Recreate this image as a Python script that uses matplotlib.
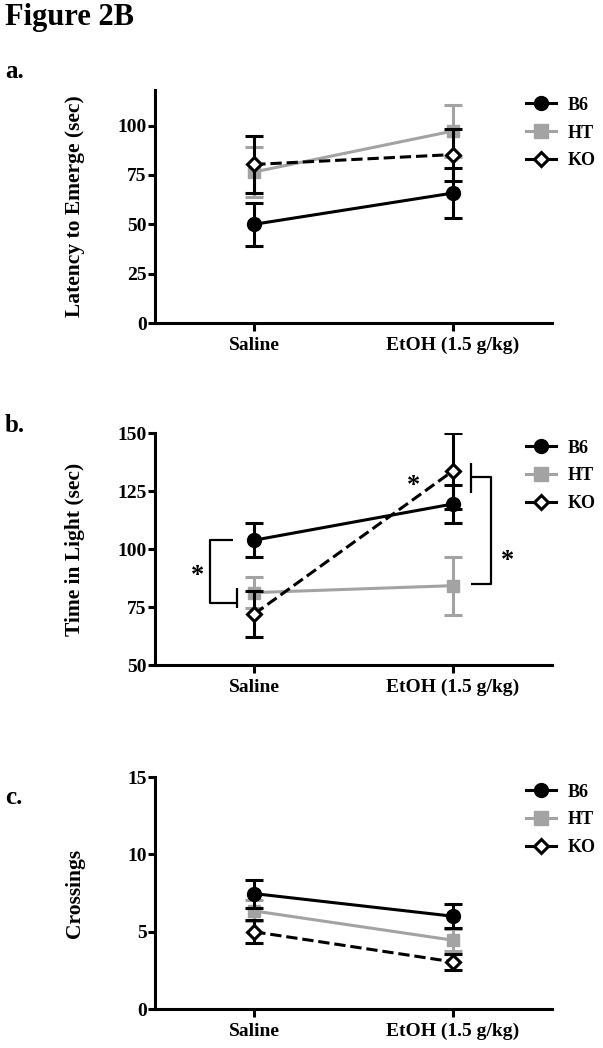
import matplotlib
matplotlib.use("Agg")
import matplotlib.pyplot as plt
from matplotlib.lines import Line2D

plt.rcParams['font.family'] = ['Liberation Serif', 'DejaVu Serif']
plt.rcParams['font.weight'] = 'bold'

# data
conditions = ["Saline", "EtOH (1.5 g/kg)"]
groups = ["B6", "HT", "KO"]

# a. latency to emerge (sec)
lat_b6 = [50, 65.8]
lat_b6_err = [10.8, 12.6]
lat_ht = [76.5, 97.2]
lat_ht_err = [12.7, 13.3]
lat_ko = [80.3, 85.3]
lat_ko_err = [14.4, 13.2]

# b. time in light (sec)
light_b6 = [103.8, 119.4]
light_b6_err = [7.4, 8.2]
light_ht = [81.2, 84.2]
light_ht_err = [6.6, 12.5]
light_ko = [72.0, 133.6]
light_ko_err = [10.1, 16.2]

# c. crossings
cross_b6 = [7.46, 6.0]
cross_b6_err = [0.9, 0.78]
cross_ht = [6.34, 4.45]
cross_ht_err = [0.68, 0.72]
cross_ko = [4.99, 3.05]
cross_ko_err = [0.75, 0.5]

GRAY = '#a3a3a3'
LW = 2.2

W, H = 603, 1048
AX_L, AX_R = 155, 552
fig = plt.figure(figsize=(W / 100, H / 100), dpi=100)


def panel(bottom_px, top_px, ylim, yticks, ylabel, b6, b6e, ht, hte, ko, koe):
    ax = fig.add_axes([AX_L / W, 1 - bottom_px / H, (AX_R - AX_L) / W,
                       (bottom_px - top_px) / H])
    x = [0, 1]
    ax.errorbar(x, b6, yerr=b6e, color='black', lw=LW, marker='o', ms=10,
                capsize=6.5, capthick=LW, elinewidth=LW, zorder=3)
    ax.errorbar(x, ht, yerr=hte, color=GRAY, lw=LW, marker='s', ms=9,
                capsize=6.5, capthick=LW, elinewidth=LW, zorder=2)
    ax.errorbar(x, ko, yerr=koe, color='black', lw=LW, ls='--', marker='D', ms=7.5,
                mfc='white', mec='black', mew=2.2, capsize=6.5, capthick=LW,
                elinewidth=LW, zorder=4)
    ax.set_xlim(-0.5, 1.5)
    ax.set_ylim(*ylim)
    ax.set_yticks(yticks)
    ax.set_xticks(x)
    ax.set_xticklabels(conditions, fontsize=14, fontweight='bold')
    for lab in ax.get_yticklabels():
        lab.set_fontsize(14)
        lab.set_fontweight('bold')
    ax.spines['top'].set_visible(False)
    ax.spines['right'].set_visible(False)
    ax.spines['left'].set_linewidth(2.2)
    ax.spines['bottom'].set_linewidth(2.2)
    ax.tick_params(axis='both', width=2.2, length=5, direction='out', pad=1)
    ax.tick_params(axis='x', length=6, pad=4)
    ax.set_ylabel(ylabel, fontsize=15.5, fontweight='bold')
    ax.yaxis.set_label_coords(-70 / (AX_R - AX_L), 0.5)

    handles = [
        Line2D([], [], color='black', lw=LW, marker='o', ms=10),
        Line2D([], [], color=GRAY, lw=LW, marker='s', ms=9.5),
        Line2D([], [], color='black', lw=LW, marker='D', ms=7.5, mfc='white', mew=2.2),
    ]
    ax.legend(handles, groups, loc='center left',
              bbox_to_anchor=((526 - AX_L) / (AX_R - AX_L), 0.815),
              frameon=False, handlelength=1.66, handletextpad=0.66,
              labelspacing=0.6, borderaxespad=0, borderpad=0,
              prop={'weight': 'bold', 'size': 13})
    return ax


axa = panel(323, 90, (0, 118), [0, 25, 50, 75, 100], "Latency to Emerge (sec)",
            lat_b6, lat_b6_err, lat_ht, lat_ht_err, lat_ko, lat_ko_err)
axb = panel(665, 433, (50, 150), [50, 75, 100, 125, 150], "Time in Light (sec)",
            light_b6, light_b6_err, light_ht, light_ht_err, light_ko, light_ko_err)
axc = panel(1009, 777, (0, 15), [0, 5, 10, 15], "Crossings",
            cross_b6, cross_b6_err, cross_ht, cross_ht_err, cross_ko, cross_ko_err)

# significance brackets in panel b
kw = dict(color='black', lw=1.6, clip_on=False, solid_capstyle='butt')
axb.plot([-0.105, -0.221, -0.221, -0.085], [103.9, 103.9, 76.9, 76.9], **kw)
axb.plot([-0.085, -0.085], [74.6, 83.2], **kw)
axb.plot([1.09, 1.191, 1.191, 1.09], [130.9, 130.9, 84.8, 84.8], **kw)
axb.plot([1.09, 1.09], [124, 137], **kw)
axb.text(-0.286, 88.5, "*", fontsize=19, ha='center', va='center')
axb.text(1.276, 95, "*", fontsize=19, ha='center', va='center')
axb.text(0.80, 127.5, "*", fontsize=19, ha='center', va='center')

fig.text(5 / W, 1 - 18 / H, "Figure 2B", fontsize=22, fontweight='bold', va='center')
fig.text(5 / W, 1 - 71 / H, "a.", fontsize=18, fontweight='bold', va='center')
fig.text(5 / W, 1 - 425 / H, "b.", fontsize=18, fontweight='bold', va='center')
fig.text(5 / W, 1 - 798 / H, "c.", fontsize=18, fontweight='bold', va='center')

fig.savefig("out.png", dpi=100)
